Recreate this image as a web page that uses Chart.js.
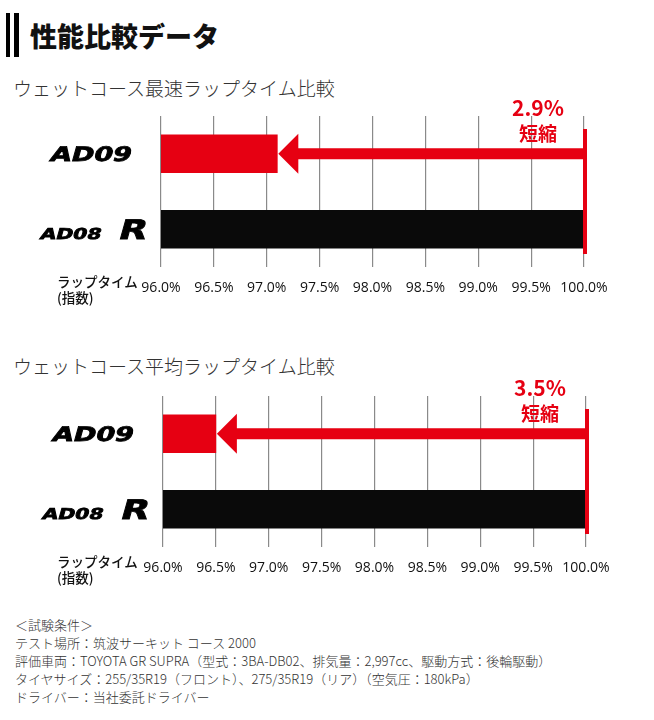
<!DOCTYPE html>
<html lang="ja">
<head>
<meta charset="utf-8">
<script src="https://cdn.jsdelivr.net/npm/chart.js@4.4.0/dist/chart.umd.min.js"></script>
<style>
  body { margin: 0; width: 654px; height: 720px; background: #fff; position: relative; overflow: hidden;
         font-family: "Noto Sans CJK JP", sans-serif; color: #222; }
  .abs { position: absolute; white-space: nowrap; }
  .bar { position: absolute; top: 13px; height: 44px; background: #000; }
  .title { left: 30px; top: 17px; font-size: 27px; font-weight: 900; line-height: 38px; color: #111; }
  .sub { left: 13px; font-size: 19px; font-weight: 300; color: #333; line-height: 24px; }
  .axlab { left: 57px; font-size: 13.5px; font-weight: 500; line-height: 16px; color: #111; }
  .note { left: 15px; top: 616px; font-size: 13px; font-weight: 300; line-height: 18px; color: #333; }
  canvas { position: absolute; left: 0; }
</style>
</head>
<body>
<div class="bar" style="left:6px;width:4px"></div>
<div class="bar" style="left:14px;width:5px"></div>
<div class="abs title">性能比較データ</div>

<div class="abs sub" style="top:76px">ウェットコース最速ラップタイム比較</div>
<canvas id="fastChart" width="654" height="220" style="top:100px"></canvas>
<div class="abs axlab" style="top:273px">ラップタイム<br>(指数)</div>

<div class="abs sub" style="top:354px">ウェットコース平均ラップタイム比較</div>
<canvas id="avgChart" width="654" height="220" style="top:380px"></canvas>
<div class="abs axlab" style="top:553px">ラップタイム<br>(指数)</div>

<div class="abs note">＜試験条件＞<br>テスト場所：筑波サーキット コース 2000<br>評価車両：TOYOTA GR SUPRA（型式：3BA-DB02、排気量：2,997cc、駆動方式：後輪駆動）<br>タイヤサイズ：255/35R19（フロント）、275/35R19（リア）（空気圧：180kPa）<br>ドライバー：当社委託ドライバー</div>

<script>
// データ
const tires = ['AD09', 'AD08 R'];
const fastestLap = [97.1, 100.0];   // 最速ラップタイム指数
const averageLap = [96.5, 100.0];   // 平均ラップタイム指数
const tickLabels = ['96.0%', '96.5%', '97.0%', '97.5%', '98.0%', '98.5%', '99.0%', '99.5%', '100.0%'];
const axisMin = 96, axisMax = 100, axisStep = 0.5;

const RED = '#e60012';
const BLACK = '#0a0a0a';

// タイヤ名ロゴ風ラベル
const tireLabelPlugin = {
  id: 'tireLabels',
  afterDraw(chart) {
    const { ctx, chartArea: a, scales: { y } } = chart;
    const drawLogo = (txt, right, base, size) => {
      ctx.save();
      ctx.translate(right, base);
      ctx.transform(1.35, 0, -0.28, 1, 0, 0);
      ctx.font = 'bold ' + size + 'px "DejaVu Sans"';
      ctx.textAlign = 'right';
      ctx.textBaseline = 'alphabetic';
      ctx.fillStyle = '#000';
      ctx.strokeStyle = '#000';
      ctx.lineWidth = 0.8;
      ctx.fillText(txt, 0, 0);
      ctx.strokeText(txt, 0, 0);
      ctx.restore();
    };
    chart.data.labels.forEach((lab, i) => {
      const cy = y.getPixelForValue(i);
      const parts = lab.split(' ');
      if (parts.length > 1) {
        drawLogo(parts[1], a.left - 16, cy + 10, 27);
        drawLogo(parts[0], a.left - 61, cy + 10, 15);
      } else {
        drawLogo(lab, a.left - 31, cy + 7.5, 20);
      }
    });
  }
};

// 矢印と短縮率
const arrowPlugin = {
  id: 'arrow',
  afterDatasetsDraw(chart) {
    const { ctx, chartArea: a, scales: { x, y } } = chart;
    const vals = chart.data.datasets[0].data;
    const base = x.getPixelForValue(vals[1]);
    const tip = x.getPixelForValue(vals[0]);
    const cy = y.getPixelForValue(0);
    ctx.save();
    ctx.fillStyle = RED;
    ctx.fillRect(tip + 20, cy - 5.5, base - tip - 20, 11);
    ctx.beginPath();
    ctx.moveTo(tip + 1, cy);
    ctx.lineTo(tip + 21, cy - 20);
    ctx.lineTo(tip + 21, cy + 20);
    ctx.closePath();
    ctx.fill();
    ctx.fillRect(base - 1, a.top + 13, 4, a.bottom - a.top - 26);
    ctx.textAlign = 'center';
    ctx.textBaseline = 'alphabetic';
    ctx.font = 'bold 21px "Noto Sans CJK JP"';
    ctx.fillText((vals[1] - vals[0]).toFixed(1) + '%', base - 46, a.top);
    ctx.font = 'bold 19px "Noto Sans CJK JP"';
    ctx.fillText('短縮', base - 46, a.top + 25);
    ctx.restore();
  }
};

function makeLapChart(id, data, padLeft, padRight) {
  return new Chart(document.getElementById(id), {
    type: 'bar',
    data: {
      labels: tires,
      datasets: [{ data, backgroundColor: [RED, BLACK], barThickness: 38 }]
    },
    options: {
      indexAxis: 'y',
      responsive: false,
      animation: false,
      layout: { padding: { left: padLeft, right: padRight, top: 16, bottom: 0 } },
      plugins: { legend: { display: false }, tooltip: { enabled: false } },
      scales: {
        x: {
          min: axisMin, max: axisMax,
          ticks: {
            stepSize: axisStep,
            padding: 13,
            minRotation: 0,
            maxRotation: 0,
            autoSkip: false,
            color: '#111',
            font: { family: '"Open Sans"', size: 14 },
            callback: (v, i) => tickLabels[i]
          },
          grid: { color: '#8a8a8a', lineWidth: 1.2, drawTicks: false },
          border: { display: false },
          afterFit: s => { s.height = 53; }
        },
        y: { display: false }
      }
    },
    plugins: [tireLabelPlugin, arrowPlugin]
  });
}

makeLapChart('fastChart', fastestLap, 161, 70);
makeLapChart('avgChart', averageLap, 163, 68);
</script>
</body>
</html>
